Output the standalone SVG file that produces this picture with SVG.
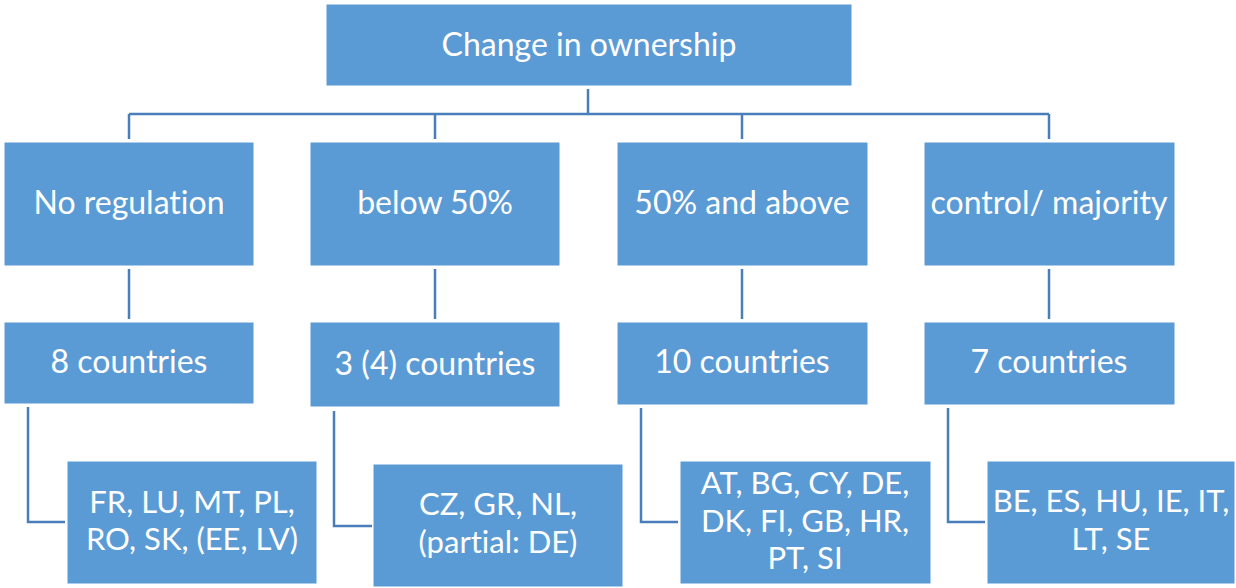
<svg xmlns="http://www.w3.org/2000/svg" width="1236" height="588" viewBox="0 0 1236 588">
<style>
.box{fill:#5B9BD5;stroke:#ffffff;stroke-width:1}
.t{fill:#ffffff;font-family:Lato,"Open Sans","Liberation Sans",sans-serif;font-size:32px;text-anchor:middle;font-variant-ligatures:none}
.s{font-size:31px}
.c{fill:none;stroke:#4A7EBB;stroke-width:2.5}
</style>
<rect width="1236" height="588" fill="#ffffff"/>
<g id="connectors">
<path class="c" d="M588,89 V114 M129,114 H1049 M129,114 V139 M435,114 V139 M742,114 V139 M1049,114 V139"/>
<path class="c" d="M129,269 V319 M435,269 V319 M742,269 V319 M1049,269 V319"/>
<path class="c" d="M28,407 V522 H65"/>
<path class="c" d="M334,411 V526 H372"/>
<path class="c" d="M641,408 V522 H678"/>
<path class="c" d="M948,408 V522 H985"/>
</g>
<g id="root"><rect class="box" x="326" y="4" width="526" height="82"/><text class="t" x="589" y="56">Change in ownership</text></g>
<g id="noreg"><rect class="box" x="4" y="142" width="250" height="124"/><text class="t" x="129" y="214">No regulation</text></g>
<g id="below50"><rect class="box" x="310" y="142" width="250" height="124"/><text class="t" x="435" y="214">below 50%</text></g>
<g id="above50"><rect class="box" x="617" y="142" width="251" height="124"/><text class="t" x="742" y="214">50% and above</text></g>
<g id="control"><rect class="box" x="924" y="142" width="251" height="124"/><text class="t" x="1049" y="214">control/ majority</text></g>
<g id="c8"><rect class="box" x="4" y="322" width="250" height="82"/><text class="t" x="129" y="373">8 countries</text></g>
<g id="c3"><rect class="box" x="310" y="322" width="250" height="85"/><text class="t" x="435" y="375">3 (4) countries</text></g>
<g id="c10"><rect class="box" x="617" y="322" width="251" height="83"/><text class="t" x="742" y="373">10 countries</text></g>
<g id="c7"><rect class="box" x="924" y="322" width="251" height="83"/><text class="t" x="1049" y="373">7 countries</text></g>
<g id="l1"><rect class="box" x="67" y="461" width="250" height="123"/><text class="t s" x="192" y="513">FR, LU, MT, PL,</text><text class="t s" x="192" y="550">RO, SK, (EE, LV)</text></g>
<g id="l2"><rect class="box" x="373" y="464" width="250" height="123"/><text class="t s" x="498" y="515">CZ, GR, NL,</text><text class="t s" x="498" y="553">(partial: DE)</text></g>
<g id="l3"><rect class="box" x="680" y="461" width="251" height="123"/><text class="t s" x="805" y="494">AT, BG, CY, DE,</text><text class="t s" x="805" y="532">DK, FI, GB, HR,</text><text class="t s" x="805" y="569">PT, SI</text></g>
<g id="l4"><rect class="box" x="987" y="461" width="248" height="123"/><text class="t s" x="1111" y="512">BE, ES, HU, IE, IT,</text><text class="t s" x="1111" y="550">LT, SE</text></g>
</svg>
